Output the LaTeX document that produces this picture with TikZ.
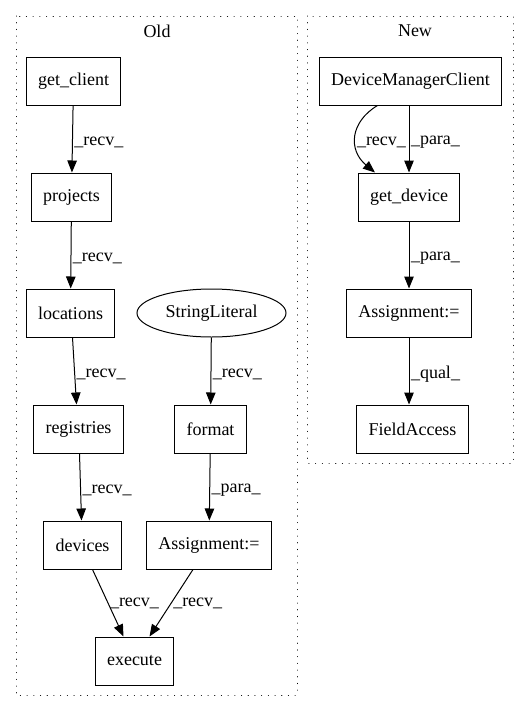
\documentclass[tikz,border=0pt]{standalone}
\usepackage{fontspec}
\setmainfont{Liberation Serif}
\usetikzlibrary{arrows.meta, shapes.geometric}

\begin{document}
\begin{tikzpicture}[%
        > = {Triangle[length = 12pt, width = 9.5pt]},
        x = 1pt,
        y = -1pt,
        line width = 1pt,
        font = \fontsize{18}{21}\selectfont,
        box/.style = {%
            draw,
            rectangle,
            minimum width = 72pt,
            minimum height = 48pt,
            inner xsep = 12pt
        },
        oval/.style = {%
            draw,
            ellipse,
            minimum width = 149pt,
            minimum height = 48pt,
            inner sep = 0pt
        },
        cluster/.style = {draw, line cap = round, dash pattern = on 0.1pt off 6.6pt},
        lbl/.style = {anchor = west, inner sep = 1.5pt}
    ]

        % Fix the page to the size of the reference.
        \useasboundingbox (0, 0) rectangle (529, 712);

        % Coordinates
        \coordinate (c_getclient) at (73.5, 81);
        \coordinate (c_projects) at (71.5, 197);
        \coordinate (c_locations) at (70.5, 313);
        \coordinate (c_registries) at (78.5, 429);
        \coordinate (c_devices) at (82.5, 545);
        \coordinate (c_execute) at (134.5, 661);
        \coordinate (c_strlit) at (211.5, 313);
        \coordinate (c_format) at (210.5, 429);
        \coordinate (c_assignold) at (209, 545);
        \coordinate (c_dmc) at (410.5, 81);
        \coordinate (c_getdevice) at (409, 197);
        \coordinate (c_assignnew) at (409, 313);
        \coordinate (c_fieldaccess) at (412.5, 429);

        % Draw the two clusters.
        \draw[cluster] (16, 16) rectangle (297, 695);
        \draw[cluster] (307, 16) rectangle (513, 463);
        \node (oldlabel) at (157, 31) {Old};
        \node (newlabel) at (415, 31) {New};

        % Nodes of the old version.
        \node[box] (getclient) at (c_getclient) {get\_client};
        \node[box] (projects) at (c_projects) {projects};
        \node[box] (locations) at (c_locations) {locations};
        \node[box] (registries) at (c_registries) {registries};
        \node[box] (devices) at (c_devices) {devices};
        \node[box] (execute) at (c_execute) {execute};
        \node[oval] (strlit) at (c_strlit) {StringLiteral};
        \node[box] (format) at (c_format) {format};
        \node[box] (assignold) at (c_assignold) {Assignment:=};

        % Nodes of the new version.
        \node[box] (dmc) at (c_dmc) {DeviceManagerClient};
        \node[box] (getdevice) at (c_getdevice) {get\_device};
        \node[box] (assignnew) at (c_assignnew) {Assignment:=};
        \node[box] (fieldaccess) at (c_fieldaccess) {FieldAccess};

        % Edges of the old version.
        \begin{scope}[->]
            \draw (getclient) -- (projects) node[lbl, pos = 0.55] (l1) {\_recv\_};
            \draw (projects) -- (locations) node[lbl, pos = 0.55] (l0) {\_recv\_};
            \draw ([xshift = 2pt]locations.south) -- ([xshift = -2pt]registries.north)
                node[lbl, pos = 0.55] (l2) {\_recv\_};
            \draw ([xshift = 1pt]registries.south) -- ([xshift = -1pt]devices.north)
                node[lbl, pos = 0.55] (l3) {\_recv\_};
            \draw (strlit) -- (format) node[lbl, pos = 0.55] (l4) {\_recv\_};
            \draw (format) -- (assignold) node[lbl, pos = 0.55] (l5) {\_para\_};
            \draw ([xshift = 10pt]devices.south) -- ([xshift = -11pt]execute.north)
                node[lbl, pos = 0.5] (l6) {\_recv\_};
            \draw ([xshift = -16pt]assignold.south) -- ([xshift = 15pt]execute.north)
                node[lbl, pos = 0.5] (l7) {\_recv\_};
        \end{scope}

        % Edges of the new version.
        \begin{scope}[->]
            \draw ([xshift = -33pt]dmc.south) .. controls (350, 122) and (348, 150)
                .. ([xshift = -34pt]getdevice.north);
            \node[lbl] (l8) at (355, 142) {\_recv\_};
            \draw ([xshift = -1.5pt]dmc.south) -- (getdevice.north)
                node[lbl, pos = 0.55] (l9) {\_para\_};
            \draw (getdevice) -- (assignnew) node[lbl, pos = 0.55] (l10) {\_para\_};
            \draw (assignnew) -- ([xshift = -3.5pt]fieldaccess.north)
                node[lbl, pos = 0.55] (l11) {\_qual\_};
        \end{scope}
    \end{tikzpicture}
\end{document}
